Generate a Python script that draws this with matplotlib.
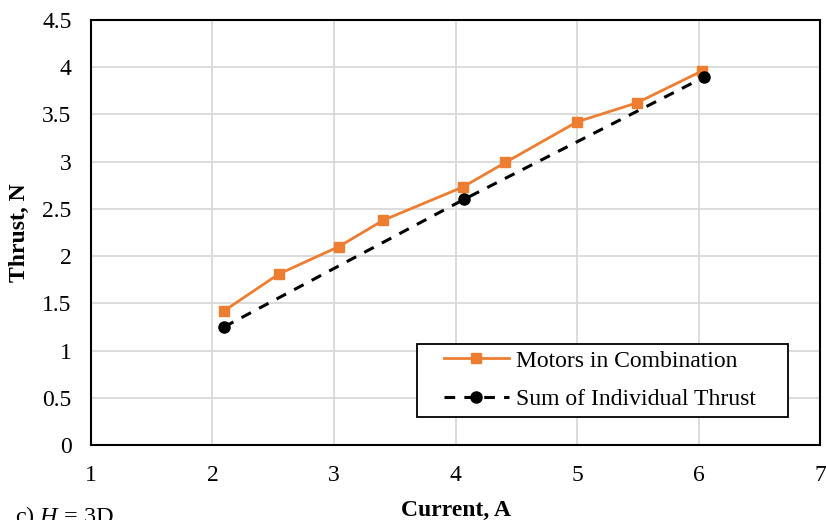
import matplotlib
matplotlib.use("Agg")
import matplotlib.pyplot as plt
from matplotlib.patches import Rectangle

# Thrust vs current, H = 3D
current_combo = [2.095, 2.546, 3.04, 3.407, 4.06, 4.41, 5.0, 5.49, 6.03]
thrust_combo = [1.42, 1.81, 2.10, 2.38, 2.73, 2.99, 3.42, 3.62, 3.96]

current_sum = [2.095, 4.07, 6.04]
thrust_sum = [1.25, 2.60, 3.89]

x_ticks = [1, 2, 3, 4, 5, 6, 7]
y_ticks = [0, 0.5, 1, 1.5, 2, 2.5, 3, 3.5, 4, 4.5]
y_tick_labels = ["0", "0.5", "1", "1.5", "2", "2.5", "3", "3.5", "4", "4.5"]

plt.rcParams["font.family"] = ["Liberation Serif", "DejaVu Serif"]
plt.rcParams["mathtext.fontset"] = "custom"
plt.rcParams["mathtext.it"] = "Liberation Serif:italic"
plt.rcParams["mathtext.rm"] = "Liberation Serif"

FS = 17

fig = plt.figure(figsize=(8.26, 5.20), dpi=100)
ax = fig.add_axes([0.110, 0.144, 0.883, 0.818])

ax.plot(current_combo, thrust_combo, color="#ED7D31", lw=2.0, marker="s",
        markersize=7, label="Motors in Combination", zorder=3)
ax.plot(current_sum, thrust_sum, color="black", lw=2.2, ls=(0, (3.5, 3)),
        marker="o", markersize=8, label="Sum of Individual Thrust", zorder=4)

ax.set_xlim(1, 7)
ax.set_ylim(0, 4.5)
ax.set_xticks(x_ticks)
ax.set_yticks(y_ticks)
ax.set_yticklabels(y_tick_labels)
ax.tick_params(axis="x", length=0, labelsize=FS, pad=14)
ax.tick_params(axis="y", length=0, labelsize=FS, pad=14)
ax.grid(True, color="#d9d9d9", lw=1.3, zorder=0)
ax.set_axisbelow(True)
for s in ax.spines.values():
    s.set_linewidth(1.5)
    s.set_color("black")

ax.set_xlabel("Current, A", fontsize=FS, fontweight="bold", labelpad=10)
ax.set_ylabel("Thrust, N", fontsize=FS, fontweight="bold", labelpad=9)

# legend box with a roomy frame drawn separately
ax.add_patch(Rectangle((0.447, 0.067), 0.509, 0.170, transform=ax.transAxes,
                       facecolor="white", edgecolor="black", lw=1.3, zorder=5))
leg = ax.legend(loc="center left", bbox_to_anchor=(0.484, 0.153), fontsize=FS,
                frameon=False, handlelength=2.75, borderpad=0,
                labelspacing=0.72, handletextpad=0.3, borderaxespad=0)
leg.set_zorder(6)

fig.text(0.018, -0.02, r"c) $H$ = 3D", fontsize=FS + 0.5, ha="left", va="bottom")

fig.savefig("out.png", dpi=100)
